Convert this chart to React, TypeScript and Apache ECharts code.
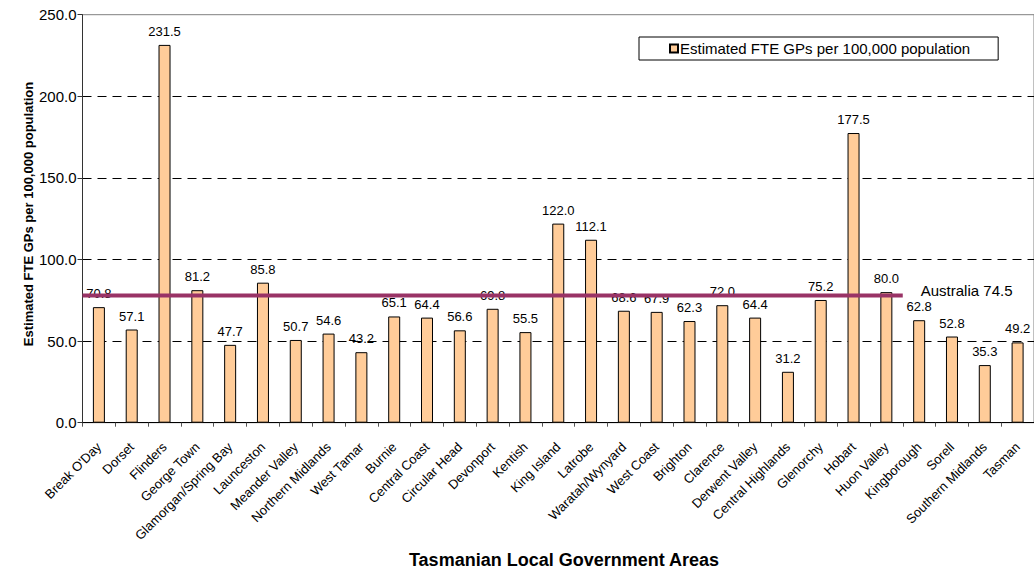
import React, { useEffect, useRef } from "react";
import * as echarts from "echarts";

const categories: string[] = [
  "Break O'Day", "Dorset", "Flinders", "George Town", "Glamorgan/Spring Bay",
  "Launceston", "Meander Valley", "Northern Midlands", "West Tamar", "Burnie",
  "Central Coast", "Circular Head", "Devonport", "Kentish", "King Island",
  "Latrobe", "Waratah/Wynyard", "West Coast", "Brighton", "Clarence",
  "Derwent Valley", "Central Highlands", "Glenorchy", "Hobart", "Huon Valley",
  "Kingborough", "Sorell", "Southern Midlands", "Tasman",
];

const gpValues: number[] = [
  70.8, 57.1, 231.5, 81.2, 47.7,
  85.8, 50.7, 54.6, 43.2, 65.1,
  64.4, 56.6, 69.8, 55.5, 122.0,
  112.1, 68.6, 67.9, 62.3, 72.0,
  64.4, 31.2, 75.2, 177.5, 80.0,
  62.8, 52.8, 35.3, 49.2,
];

const seriesName = "Estimated FTE GPs per 100,000 population";
const australiaLabel = "Australia 74.5";
// level at which the reference draws the Australia line
const australiaLineLevel = 78;
// category span covered by the line: from start of first to end of Huon Valley
const australiaLineSpan: number[] = [0, 25];

const yTicks: number[] = [0, 50, 100, 150, 200, 250];

const FONT = 'Arial, "Liberation Sans", sans-serif';

export default function App() {
  const ref = useRef<HTMLDivElement>(null);

  useEffect(() => {
    if (!ref.current) return;
    const chart = echarts.init(ref.current, undefined, { renderer: "svg" });
    const n = categories.length;
    chart.setOption({
      animation: false,
      backgroundColor: "#ffffff",
      textStyle: { fontFamily: FONT },
      grid: {
        left: 82.5,
        right: -8.5,
        top: 14.7,
        bottom: 149.3,
        show: true,
        borderColor: "#808080",
        borderWidth: 1,
        backgroundColor: "transparent",
      },
      legend: {
        show: true,
        left: 639,
        top: 37,
        orient: "horizontal",
        data: [{ name: seriesName, icon: "rect" }],
        itemWidth: 8,
        itemHeight: 8,
        borderColor: "#000",
        borderWidth: 1,
        borderRadius: 0,
        padding: [4, 28, 4, 30],
        textStyle: { fontSize: 15, color: "#000", fontFamily: FONT, padding: [0, 0, 0, -3] },
      },
      xAxis: [
        {
          type: "category",
          data: categories,
          boundaryGap: true,
          axisLine: { show: true, lineStyle: { color: "#000", width: 1 } },
          axisTick: { show: true, length: 4, lineStyle: { color: "#555" } },
          axisLabel: {
            rotate: 45,
            interval: 0,
            fontSize: 13,
            color: "#000",
            margin: 22,
            fontFamily: FONT,
          },
          splitLine: { show: false },
        },
        {
          type: "value",
          min: 0,
          max: n,
          show: false,
        },
      ],
      yAxis: {
        type: "value",
        min: 0,
        max: 250,
        interval: 50,
        axisLine: { show: true, lineStyle: { color: "#333", width: 1 } },
        axisTick: { show: true, length: 5, lineStyle: { color: "#333" } },
        axisLabel: {
          fontSize: 15,
          color: "#000",
          margin: 6,
          fontFamily: FONT,
          formatter: (v: number) => (yTicks.includes(v) ? v.toFixed(1) : ""),
        },
        splitLine: {
          show: true,
          lineStyle: {
            color: ["transparent", "#000", "#000", "#000", "#000", "transparent"],
            type: [9, 6],
            width: 1,
          },
        },
      },
      series: [
        {
          name: seriesName,
          type: "bar",
          xAxisIndex: 0,
          data: gpValues,
          barWidth: 12,
          itemStyle: { color: "#FFCC99", borderColor: "#000", borderWidth: 1 },
          label: {
            show: true,
            position: "top",
            distance: 7,
            fontSize: 13,
            color: "#000",
            fontFamily: FONT,
            formatter: (p: any) => Number(p.value).toFixed(1),
          },
        },
        {
          name: "Australia",
          type: "line",
          xAxisIndex: 1,
          data: [
            [australiaLineSpan[0], australiaLineLevel],
            [australiaLineSpan[1], australiaLineLevel],
          ],
          symbol: "none",
          lineStyle: { color: "#993366", width: 4 },
          z: 5,
          endLabel: {
            show: true,
            formatter: () => australiaLabel,
            fontSize: 15,
            color: "#000",
            distance: 18,
            offset: [0, -5],
            fontFamily: FONT,
          },
        },
      ],
      graphic: [
        {
          type: "text",
          x: 28,
          y: 214,
          rotation: Math.PI / 2,
          style: {
            text: "Estimated FTE GPs per 100,000 population",
            font: `bold 13px ${FONT}`,
            fill: "#000",
            align: "center",
            verticalAlign: "middle",
          },
        },
        {
          type: "text",
          x: 564,
          y: 560,
          style: {
            text: "Tasmanian Local Government Areas",
            font: `bold 18px ${FONT}`,
            fill: "#000",
            align: "center",
            verticalAlign: "middle",
          },
        },
      ],
    });
    return () => chart.dispose();
  }, []);

  return (
    <div
      ref={ref}
      style={{ position: "fixed", left: 0, top: 0, width: 1034, height: 572 }}
    />
  );
}
